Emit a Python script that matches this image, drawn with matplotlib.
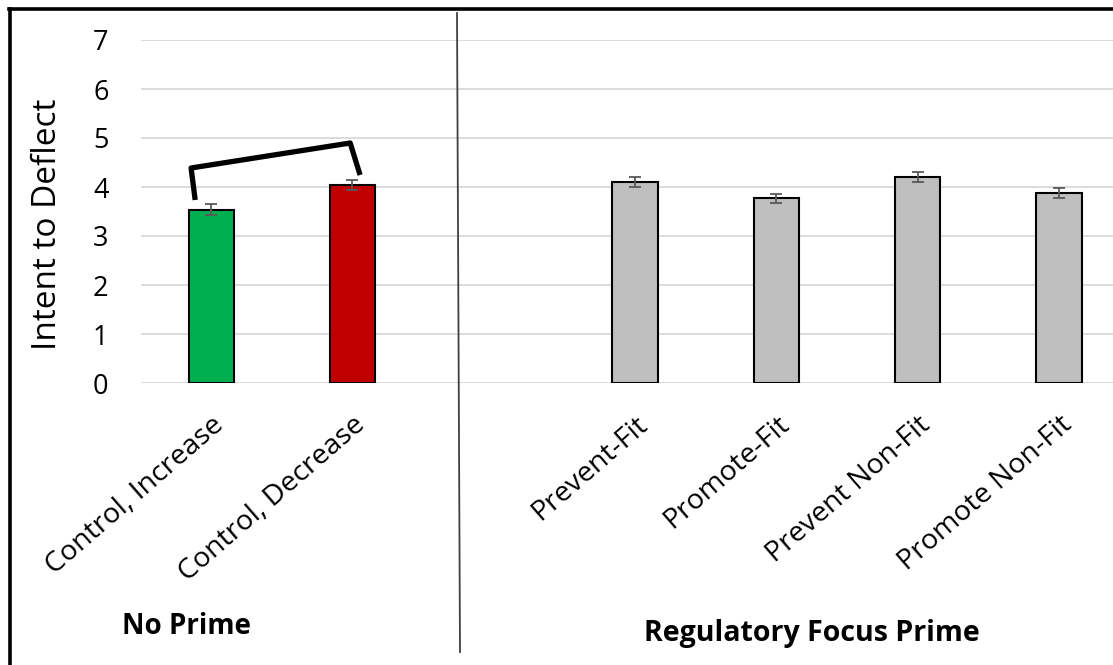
import numpy as np
import matplotlib
matplotlib.use('Agg')
import matplotlib.pyplot as plt
from matplotlib.lines import Line2D

plt.rcParams['font.family'] = ['Open Sans', 'DejaVu Sans']

# intent-to-deflect means (+/- SE) per condition
labels = ['Control, Increase', 'Control, Decrease',
          'Prevent-Fit', 'Promote-Fit', 'Prevent Non-Fit', 'Promote Non-Fit']
means = [3.54, 4.04, 4.11, 3.77, 4.21, 3.87]
errs = [0.12, 0.10, 0.10, 0.095, 0.10, 0.10]
colors = ['#00b050', '#c00000', '#bfbfbf', '#bfbfbf', '#bfbfbf', '#bfbfbf']
slots = [0, 1, 3, 4, 5, 6]  # slot 2 left empty between the two groups

W, H = 1113, 665
fig = plt.figure(figsize=(W/100, H/100), dpi=100)
ax = fig.add_axes([140.5/W, 1-383/H, (W-140.5)/W, (383-40)/H])

ax.bar(slots, means, width=0.32, color=colors, edgecolor='black', linewidth=1.5, zorder=3)
ax.errorbar(slots, means, yerr=errs, fmt='none', ecolor='#595959',
            elinewidth=1.3, capsize=4.5, capthick=1.3, zorder=4)

ax.set_xlim(-0.5, -0.5 + (W-140.5)/141.3)
ax.set_ylim(0, 7)
ax.set_yticks(range(8))
ax.grid(axis='y', color='#d9d9d9', linewidth=1.3, zorder=0)
ax.set_axisbelow(True)
for s in ax.spines.values():
    s.set_visible(False)
ax.tick_params(axis='y', length=0, pad=23, labelsize=19.5)
ax.tick_params(axis='x', length=0, pad=20, labelsize=20.5)
ax.set_xticks(slots)
ax.set_xticklabels(labels, rotation=41, ha='right', rotation_mode='anchor')

# significance bracket between the two control bars
bx = [-0.113, -0.142, 0.984, 1.054]
by = [3.735, 4.388, 4.898, 4.245]
ax.plot(bx, by, color='black', lw=3.8, solid_joinstyle='round',
        solid_capstyle='butt', clip_on=False, zorder=5)

fig.text(48/W, 1-224.5/H, 'Intent to Deflect', rotation=90, fontsize=24,
         ha='center', va='center')

fig.text(186/W, 1-627/H, 'No Prime', fontsize=20, fontweight='bold',
         ha='center', va='center')
fig.text(812/W, 1-633/H, 'Regulatory Focus Prime', fontsize=20.5, fontweight='bold',
         ha='center', va='center')

# group divider and outer frame
fig.add_artist(Line2D([457/W, 460/W], [1-13/H, 1-652/H], color='#404040', lw=1.3))
fig.add_artist(Line2D([9/W, 1.0], [1-9/H, 1-9/H], color='black', lw=2.6))
fig.add_artist(Line2D([10/W, 10/W], [1-9/H, 0], color='black', lw=2.6))

fig.savefig('out.png', dpi=100, facecolor='white')
